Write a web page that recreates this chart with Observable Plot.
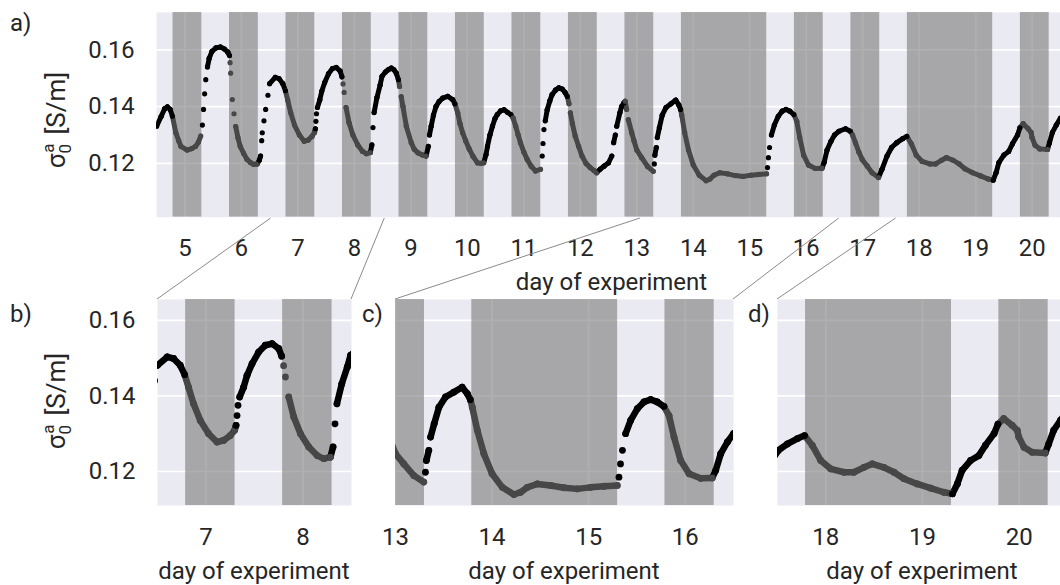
<!DOCTYPE html>
<html><head><meta charset="utf-8">
<script src="https://cdn.jsdelivr.net/npm/d3@7"></script>
<script src="https://cdn.jsdelivr.net/npm/@observablehq/plot@0.6"></script>
<style>
html,body{margin:0;padding:0;background:#fff;overflow:hidden}
#wrap{position:relative;width:1060px;height:585px;overflow:hidden;font-family:Roboto,sans-serif;color:#262626}
#wrap > svg{position:absolute;margin:0;overflow:visible}
</style></head><body><div id="wrap"></div>
<script>
// [day of experiment, sigma_0^a in S/m]
const series = [
[4.50,.1331],[4.58,.1365],[4.64,.1392],[4.69,.1399],[4.74,.1390],[4.78,.1366],[4.84,.1308],[4.89,.1280],[4.93,.1260],[5.04,.1247],[5.12,.1252],[5.19,.1260],[5.24,.1275],[5.28,.1296],
[5.31,.1335],[5.33,.1390],[5.35,.1445],[5.37,.1495],[5.40,.1540],[5.43,.1570],[5.48,.1595],[5.55,.1607],[5.63,.1610],[5.70,.1603],[5.76,.1592],[5.79,.1580],
[5.80,.1555],[5.81,.1518],[5.84,.1425],[5.87,.1375],[5.90,.1330],[5.94,.1290],[5.98,.1260],[6.04,.1235],[6.10,.1214],[6.16,.1203],[6.22,.1196],[6.28,.1198],
[6.32,.1212],[6.34,.1226],[6.36,.1280],[6.37,.1308],[6.40,.1350],[6.43,.1390],[6.47,.1440],[6.50,.1481],[6.60,.1503],[6.665,.1499],[6.734,.1481],[6.78,.1456],
[6.82,.1423],[6.872,.1379],[6.941,.1335],[7.027,.1300],[7.113,.1278],[7.181,.1282],[7.25,.1295],[7.295,.1309],
[7.31,.1322],[7.32,.1348],[7.33,.1375],[7.347,.1397],[7.388,.1423],[7.423,.1454],[7.475,.1485],[7.543,.1516],[7.612,.1534],[7.681,.1538],[7.75,.1525],[7.78,.1505],
[7.80,.1480],[7.819,.1450],[7.853,.1397],[7.905,.1344],[7.974,.1300],[8.06,.1265],[8.146,.1242],[8.214,.1234],[8.283,.1238],
[8.31,.1265],[8.33,.1326],[8.35,.1379],[8.40,.1432],[8.456,.1476],[8.49,.1507],[8.55,.1522],[8.60,.1530],[8.655,.1536],[8.70,.1530],[8.743,.1518],[8.78,.1495],
[8.80,.1471],[8.83,.1435],[8.86,.1401],[8.92,.1331],[9.007,.1273],[9.06,.1250],[9.125,.1237],[9.20,.1230],[9.27,.1226],
[9.31,.1260],[9.33,.1300],[9.36,.1331],[9.40,.1370],[9.447,.1401],[9.50,.1418],[9.565,.1430],[9.653,.1436],[9.741,.1425],[9.78,.1410],
[9.83,.1378],[9.87,.1340],[9.917,.1308],[9.97,.1280],[10.035,.1250],[10.10,.1225],[10.18,.1202],[10.24,.1200],[10.29,.1202],
[10.33,.1230],[10.357,.1260],[10.40,.1300],[10.445,.1331],[10.49,.1358],[10.53,.1372],[10.59,.1385],[10.65,.1389],[10.71,.1380],[10.77,.1372],
[10.81,.1360],[10.856,.1331],[10.90,.1300],[10.94,.1273],[11.00,.1240],[11.06,.1214],[11.13,.1190],[11.207,.1173],[11.296,.1179],
[11.326,.1226],[11.34,.1270],[11.356,.1319],[11.38,.1350],[11.414,.1389],[11.46,.1420],[11.50,.1442],[11.56,.1458],[11.62,.1466],[11.68,.1462],[11.73,.1450],[11.77,.1436],
[11.80,.1410],[11.824,.1378],[11.86,.1340],[11.91,.1296],[11.97,.1260],[12.03,.1226],[12.10,.1200],[12.176,.1185],[12.24,.1175],[12.29,.1167],
[12.35,.1179],[12.42,.1190],[12.50,.1202],[12.557,.1226],[12.59,.1273],[12.62,.1300],[12.645,.1331],[12.70,.1378],[12.73,.1400],[12.77,.1413],
[12.795,.1419],[12.82,.1390],[12.85,.1354],[12.91,.1308],[12.95,.1280],[13.00,.1247],[13.086,.1220],[13.19,.1189],[13.293,.1172],
[13.31,.1198],[13.32,.1229],[13.345,.1256],[13.363,.1291],[13.40,.1326],[13.45,.1370],[13.518,.1397],[13.605,.1410],[13.69,.1423],[13.743,.1406],[13.775,.1390],
[13.795,.1370],[13.847,.1309],[13.915,.1247],[14.00,.1194],[14.106,.1158],[14.226,.1139],[14.295,.1145],[14.365,.1158],[14.468,.1167],[14.606,.1163],[14.744,.1157],[14.883,.1154],[15.02,.1158],[15.16,.1161],[15.297,.1163],
[15.314,.1185],[15.33,.1220],[15.35,.1256],[15.383,.1300],[15.435,.1335],[15.504,.1366],[15.573,.1384],[15.642,.1390],[15.71,.1384],[15.78,.1372],
[15.832,.1348],[15.884,.1291],[15.953,.1229],[16.04,.1194],[16.16,.1182],[16.28,.1183],
[16.316,.1203],[16.368,.1247],[16.437,.1278],[16.50,.1300],[16.577,.1313],[16.695,.1322],[16.78,.1313],
[16.82,.1300],[16.87,.1273],[16.93,.1240],[16.99,.1214],[17.08,.1190],[17.165,.1167],[17.28,.1150],
[17.34,.1179],[17.43,.1226],[17.51,.1256],[17.603,.1273],[17.707,.1287],[17.78,.1295],
[17.86,.1269],[17.947,.1229],[18.05,.1207],[18.188,.1198],[18.29,.1198],[18.395,.1211],[18.48,.1220],[18.60,.1211],[18.705,.1198],[18.808,.1181],[18.946,.1167],[19.084,.1156],[19.22,.1145],[19.29,.1142],
[19.31,.1141],[19.36,.1167],[19.41,.1203],[19.497,.1229],[19.583,.1242],[19.65,.1269],[19.74,.1300],[19.78,.1325],
[19.84,.1340],[19.928,.1322],[19.98,.1309],[19.996,.1291],[20.05,.1264],[20.134,.1251],[20.27,.1249],
[20.306,.1273],[20.357,.1309],[20.426,.1335],[20.50,.1360]
];
// dark periods (shaded)
const darkStart = [4.79,5.79,6.79,7.79,8.79,9.79,10.79,11.79,12.79,13.79,15.79,16.79,17.79,19.79];
const darkEnd   = [5.30,6.30,7.30,8.30,9.30,10.30,11.30,12.30,13.30,15.30,16.30,17.30,19.30,20.30];
const xTicks = [5,6,7,8,9,10,11,12,13,14,15,16,17,18,19,20];
const yTicks = [0.12,0.14,0.16];
const panelNames = ["a)","b)","c)","d)"];
const xTitle = "day of experiment";
const zoomRanges = [[6.5,8.5],[13,16.5],[17.5,20.5]];

const BG = "#eaeaf2", BLACK = "#000000", GRAY = "#474747";
const isDark = d => darkStart.some((s,i) => d > s && d < darkEnd[i]);
const pts = series.map(([day,s]) => ({day, s, dark: isDark(day)}));
// consecutive samples joined, except where the signal jumps steeply (there the samples show as separate dots)
const segs = pts.slice(1).map((p,i) => ({x1: pts[i].day, y1: pts[i].s, x2: p.day, y2: p.s, dark: p.dark}))
  .filter(d => Math.abs(d.y2 - d.y1) / (d.x2 - d.x1) <= 0.12);

function panel({xdomain, ydomain, width, height, ml, mt, mb, yaxis, sw, r}) {
  const xt = xTicks.filter(t => t >= xdomain[0] && t <= xdomain[1]);
  const shades = darkStart.map((s,i) => ({start: Math.max(s, xdomain[0]), end: Math.min(darkEnd[i], xdomain[1])}))
    .filter(d => d.end > d.start);
  return Plot.plot({
    width, height, marginLeft: ml, marginRight: 0, marginTop: mt, marginBottom: mb,
    style: {fontFamily: "Roboto, sans-serif", fontSize: "24px", color: "#262626", background: "transparent", overflow: "visible"},
    x: {domain: xdomain, ticks: xt, tickSize: 0, tickPadding: 22, label: null, tickFormat: d => String(d)},
    y: yaxis ? {domain: ydomain, ticks: yTicks, tickSize: 0, tickPadding: 22, label: null, tickFormat: d => d.toFixed(2)}
             : {domain: ydomain, axis: null},
    color: {type: "identity"},
    marks: [
      Plot.frame({fill: BG, stroke: "none"}),
      Plot.ruleX(xt, {stroke: "white", strokeWidth: 1.7}),
      Plot.ruleY(yTicks, {stroke: "white", strokeWidth: 1.7}),
      Plot.rect(shades, {x1: "start", x2: "end", fill: "#808080", fillOpacity: 0.63, clip: true}),
      Plot.link(segs, {x1: "x1", y1: "y1", x2: "x2", y2: "y2", stroke: d => d.dark ? GRAY : BLACK, strokeWidth: sw, strokeLinecap: "round", clip: true}),
      Plot.dot(pts, {x: "day", y: "s", r, fill: d => d.dark ? GRAY : BLACK, stroke: "none", clip: true})
    ]
  });
}

const wrap = document.getElementById("wrap");
const place = (svg, left, top) => { svg.style.left = left + "px"; svg.style.top = top + "px"; wrap.appendChild(svg); return svg; };

const yTop = [0.101, 0.1732], yBot = [0.111, 0.1655];
const A = place(panel({xdomain: [4.5, 20.5], ydomain: yTop, width: 1066, height: 268, ml: 157, mt: 12, mb: 50, yaxis: true, sw: 5, r: 2.6}), 0, 0);
const B = place(panel({xdomain: zoomRanges[0], ydomain: yBot, width: 351, height: 270, ml: 157, mt: 9, mb: 55, yaxis: true, sw: 6.5, r: 3.4}), 0, 290);
const C = place(panel({xdomain: zoomRanges[1], ydomain: yBot, width: 338, height: 270, ml: 0, mt: 9, mb: 55, yaxis: false, sw: 6.5, r: 3.4}), 395, 290);
const D = place(panel({xdomain: zoomRanges[2], ydomain: yBot, width: 290, height: 270, ml: 0, mt: 9, mb: 55, yaxis: false, sw: 6.5, r: 3.4}), 777, 290);

const lin = (p, k, off) => { const s = p.scale(k); const f = d3.scaleLinear(s.domain, s.range); return v => f(v) + off; };
const xa = lin(A, "x", 0);
const yaBottom = A.scale("y").range[0];
const lowers = [[B, 0], [C, 395], [D, 777]];
const NS = "http://www.w3.org/2000/svg";
const ov = document.createElementNS(NS, "svg");
ov.setAttribute("width", 1060); ov.setAttribute("height", 585);
ov.style.left = "0px"; ov.style.top = "0px"; ov.style.pointerEvents = "none";
let html = "";
lowers.forEach(([P, off], i) => {
  const xs = P.scale("x"); const topY = 290 + Math.min(...P.scale("y").range);
  const [d0, d1] = zoomRanges[i];
  html += `<line x1="${xa(d0)}" y1="${yaBottom}" x2="${off + xs.range[0]}" y2="${topY}" stroke="#8a8a8a" stroke-width="1"/>`;
  html += `<line x1="${xa(d1)}" y1="${yaBottom}" x2="${off + xs.range[1]}" y2="${topY}" stroke="#8a8a8a" stroke-width="1"/>`;
  const cx = off + (xs.range[0] + xs.range[1]) / 2;
  html += `<text x="${cx}" y="579" text-anchor="middle" font-size="24" fill="#262626">${xTitle}</text>`;
});
const xaR = A.scale("x").range;
html += `<text x="${(xaR[0] + xaR[1]) / 2}" y="290" text-anchor="middle" font-size="24" fill="#262626">${xTitle}</text>`;
const ylab = (cx, cy) => `<text transform="translate(${cx},${cy}) rotate(-90)" text-anchor="middle" font-size="26" fill="#262626">σ<tspan font-size="17" dy="6">0</tspan><tspan font-size="17" dx="-9" dy="-17">a</tspan><tspan dy="11" dx="9">[S/m]</tspan></text>`;
html += ylab(65, 120) + ylab(65, 401);
const labPos = [[10, 31], [10, 322], [362, 322], [748, 322]];
panelNames.forEach((t, i) => { html += `<text x="${labPos[i][0]}" y="${labPos[i][1]}" font-size="24" fill="#262626">${t}</text>`; });
ov.innerHTML = html;
wrap.appendChild(ov);
</script>
</body></html>
